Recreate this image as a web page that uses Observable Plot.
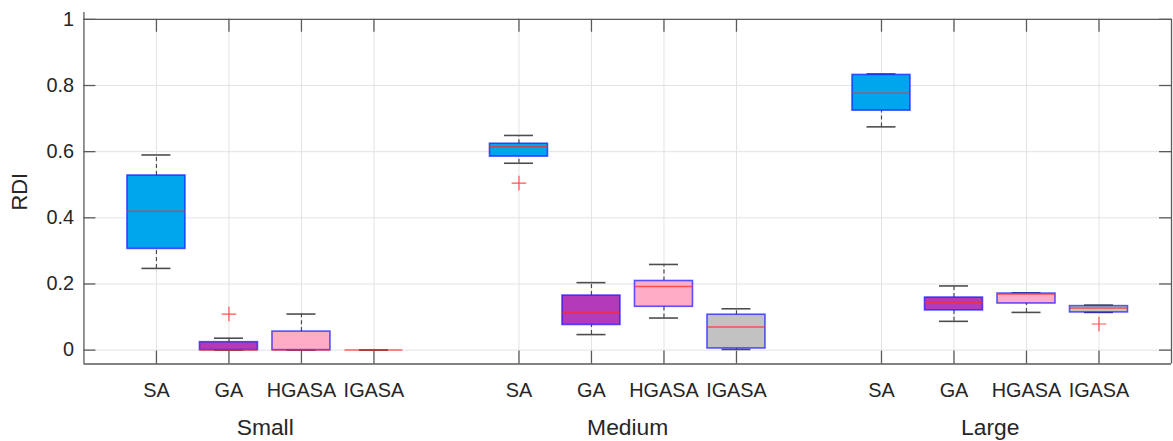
<!DOCTYPE html>
<html>
<head>
<meta charset="utf-8">
<script src="https://cdn.jsdelivr.net/npm/d3@7"></script>
<script src="https://cdn.jsdelivr.net/npm/@observablehq/plot@0.6"></script>
<style>
  html, body { margin: 0; padding: 0; background: #fff; overflow: hidden; }
  #chart { width: 1173px; height: 441px; overflow: hidden; }
</style>
</head>
<body>
<div id="chart"></div>
<script>
// ---- data ----
const groups = ["Small", "Medium", "Large"];
const methods = ["SA", "GA", "HGASA", "IGASA"];
const fills = ["#00a6ed", "#b33bba", "#ffadc7", "#c2c2c2"];

// order: Small SA, GA, HGASA, IGASA, Medium SA..., Large SA...
const whiskerHigh = [0.590, 0.036, 0.109, 0.000, 0.649, 0.204, 0.259, 0.125, 0.835, 0.194, 0.173, 0.136];
const q3          = [0.528, 0.024, 0.056, 0.000, 0.624, 0.165, 0.209, 0.107, 0.832, 0.159, 0.171, 0.133];
const median      = [0.420, 0.000, 0.000, 0.000, 0.615, 0.114, 0.192, 0.070, 0.777, 0.144, 0.170, 0.127];
const q1          = [0.306, 0.000, 0.000, 0.000, 0.585, 0.076, 0.131, 0.005, 0.724, 0.120, 0.141, 0.114];
const whiskerLow  = [0.247, 0.000, 0.000, 0.000, 0.565, 0.047, 0.097, 0.002, 0.675, 0.087, 0.114, 0.114];

const outlierGroup  = ["Small", "Medium", "Large"];
const outlierMethod = ["GA", "SA", "IGASA"];
const outlierValue  = [0.109, 0.505, 0.079];

const yTicks = [0, 0.2, 0.4, 0.6, 0.8, 1];
const yDomain = [-0.042, 1];

// ---- derived tables ----
const slot = methods.length + 1;
const posOf = (g, m) => groups.indexOf(g) * slot + methods.indexOf(m) + 1;
const xDomain = [0, groups.length * slot];

const rows = [];
groups.forEach((g, gi) => methods.forEach((m, mi) => {
  const i = gi * methods.length + mi;
  rows.push({group: g, method: m, pos: posOf(g, m), fill: fills[mi],
    lo: whiskerLow[i], q1: q1[i], med: median[i], q3: q3[i], hi: whiskerHigh[i]});
}));
const positions = rows.map(d => d.pos);
const labelAt = new Map(rows.map(d => [d.pos, d.method]));
const groupCenters = groups.map((g, gi) => (posOf(g, methods[0]) + posOf(g, methods[methods.length - 1])) / 2);
const groupAt = new Map(groupCenters.map((c, i) => [c, groups[i]]));
const outliers = outlierValue.map((v, i) => ({pos: posOf(outlierGroup[i], outlierMethod[i]), v}));

const boxHalf = 0.4, capHalf = 0.2;
const tickX = 0.165;   // inward tick length in x units
const tickY = 0.039;   // inward tick length in y units
const axisColor = "#5a5a5a";
const gridColor = "#e3e3e3";

const chart = Plot.plot({
  width: 1181,
  height: 441,
  marginLeft: 84,
  marginRight: 2,
  marginTop: 19,
  marginBottom: 75,
  style: {fontFamily: "'Liberation Sans', Arial, Helvetica, sans-serif", color: "#262626", background: "#fff", overflow: "visible"},
  x: {domain: xDomain},
  y: {domain: yDomain},
  marks: [
    // grid
    Plot.ruleY(yTicks, {stroke: gridColor, strokeWidth: 1}),
    Plot.ruleX(positions, {stroke: gridColor, strokeWidth: 1}),
    // whiskers (dashed)
    Plot.ruleX(rows, {x: "pos", y1: "q3", y2: "hi", stroke: "#4a4a4a", strokeWidth: 1.2, strokeDasharray: "4,3"}),
    Plot.ruleX(rows, {x: "pos", y1: "lo", y2: "q1", stroke: "#4a4a4a", strokeWidth: 1.2, strokeDasharray: "4,3"}),
    // caps
    Plot.ruleY(rows, {y: "hi", x1: d => d.pos - capHalf, x2: d => d.pos + capHalf, stroke: "#4d4d4d", strokeWidth: 1.6}),
    Plot.ruleY(rows, {y: "lo", x1: d => d.pos - capHalf, x2: d => d.pos + capHalf, stroke: "#4d4d4d", strokeWidth: 1.6}),
    // boxes
    Plot.rect(rows, {x1: d => d.pos - boxHalf, x2: d => d.pos + boxHalf, y1: "q1", y2: "q3",
      fill: "fill", stroke: "#1414ff", strokeOpacity: 0.7, strokeWidth: 1.6}),
    // medians
    Plot.ruleY(rows, {y: "med", x1: d => d.pos - boxHalf, x2: d => d.pos + boxHalf, stroke: "#ff2a2a", strokeOpacity: 0.72, strokeWidth: 1.5}),
    // outliers
    Plot.dot(outliers, {x: "pos", y: "v", symbol: "plus", r: 4.8, stroke: "#ff3535", strokeWidth: 1.2, strokeOpacity: 0.85}),
    // frame
    Plot.ruleY([yDomain[1]], {stroke: axisColor, strokeWidth: 1.3}),
    Plot.ruleY([yDomain[0]], {stroke: axisColor, strokeWidth: 1.3}),
    Plot.ruleX([xDomain[0]], {y1: yDomain[0], y2: yDomain[1] + 0.021, stroke: axisColor, strokeWidth: 1.3}),
    Plot.ruleX([xDomain[1]], {stroke: axisColor, strokeWidth: 1.3}),
    // inward ticks
    Plot.ruleX(positions, {y1: yDomain[1], y2: yDomain[1] - tickY, stroke: axisColor, strokeWidth: 1.3}),
    Plot.ruleX(positions, {y1: yDomain[0], y2: yDomain[0] + tickY, stroke: axisColor, strokeWidth: 1.3}),
    Plot.ruleY(yTicks, {x1: xDomain[0], x2: xDomain[0] + tickX, stroke: axisColor, strokeWidth: 1.3}),
    Plot.ruleY(yTicks, {x1: xDomain[1] - tickX, x2: xDomain[1], stroke: axisColor, strokeWidth: 1.3}),
    // axes
    Plot.axisY({ticks: yTicks, tickFormat: d => String(+d.toFixed(1)), tickSize: 0, tickPadding: 10, fontSize: 20, label: null}),
    Plot.axisY({ticks: [], label: "RDI", labelAnchor: "center", labelArrow: "none", labelOffset: 73, fontSize: 22}),
    Plot.axisX({ticks: positions, tickFormat: d => labelAt.get(d), tickSize: 0, tickPadding: 19, fontSize: 20, label: null}),
    Plot.axisX({ticks: groupCenters, tickFormat: d => groupAt.get(d), tickSize: 0, tickPadding: 55, fontSize: 23, label: null})
  ]
});
document.getElementById("chart").appendChild(chart);
</script>
</body>
</html>
